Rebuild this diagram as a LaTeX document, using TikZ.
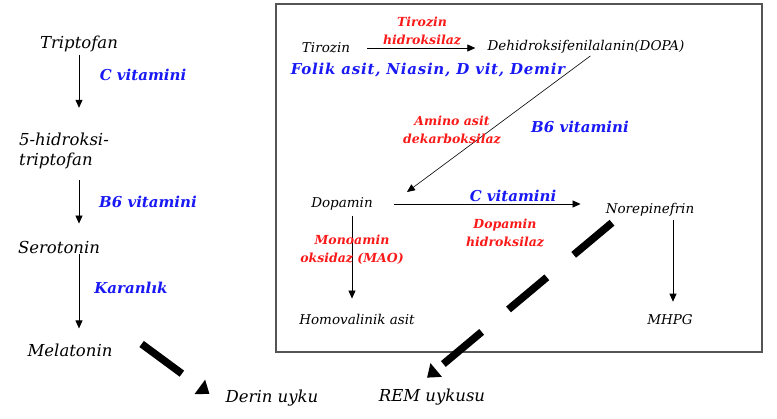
\documentclass[tikz,border=0pt]{standalone}
\usepackage{fontspec}
\setmainfont{DejaVu Serif}
\usetikzlibrary{arrows.meta}
\definecolor{vitblue}{RGB}{25,25,245}
\definecolor{enzred}{RGB}{250,25,25}
\definecolor{boxgray}{RGB}{85,85,85}

\tikzset{
	mol/.style={font=\itshape\fontsize{16.5}{20}\selectfont, inner sep=1pt},
	smol/.style={font=\itshape\fontsize{13.5}{16}\selectfont, inner sep=1pt},
	vit/.style={text=vitblue, font=\bfseries\itshape\fontsize{15}{18}\selectfont, inner sep=1pt},
	enz/.style={text=enzred, font=\bfseries\itshape\fontsize{12.5}{18}\selectfont, align=center, inner sep=1pt},
	pathway/.style={-{Triangle[length=8pt,width=7pt]}, line width=0.8pt},
	sleep/.style={line width=7.5pt, dash pattern=on 50pt off 35pt, -{Triangle[length=12pt,width=17pt]}}
}

\begin{document}
\begin{tikzpicture}[x=1pt, y=-1pt]
	\useasboundingbox (0,0) rectangle (777,418);
	
	% Draw the frame round the dopamine branch
	\draw[boxgray, line width=1.2pt] (276,4) rectangle (762,352);
	
	% Place the serotonin branch
	\node[mol] (trp) at (79,44) {Triptofan};
	\node[mol, align=left] (htp) at (64,151) {5-hidroksi-\\triptofan};
	\node[mol] (ser) at (59,247) {Serotonin};
	\node[mol] (mel) at (70,350) {Melatonin};
	
	% Connect the serotonin branch
	\draw[pathway, shorten <=2, shorten >=24] (trp.south) -- (trp.south |- htp.north);
	\draw[pathway, shorten <=10, shorten >=16] (trp.south |- htp.south) -- (trp.south |- ser.north);
	\draw[pathway, shorten >=14] (trp.south |- ser.south) -- (trp.south |- mel.north);
	
	% Label the serotonin steps
	\node[vit] (cvit1) at (143,75) {C vitamini};
	\node[vit] (b6vit1) at (148,202) {B6 vitamini};
	\node[vit] (dark) at (131,288) {Karanlık};
	
	% Place the dopamine branch
	\node[smol] (tyr) at (326,48) {Tirozin};
	\node[smol] (dopa) at (586,47) {Dehidroksifenilalanin(DOPA)};
	\node[smol] (dop) at (342,204) {Dopamin};
	\node[smol] (nore) at (650,210) {Norepinefrin};
	\node[smol] (homo) at (357,319) {Homovalinik asit};
	\node[smol] (mhpg) at (670,320) {MHPG};
	\coordinate (dopin) at (407,192);
	
	% Connect the dopamine branch
	\draw[pathway, shorten <=16, shorten >=11] (tyr.east) -- (tyr.east -| dopa.west);
	\draw[pathway, line width=0.6pt, shorten <=2] ([xshift=6]dopa.south) -- (dopin);
	\draw[pathway, shorten <=20, shorten >=24] (dop.east) -- (dop.east -| nore.west);
	\draw[pathway, shorten <=4, shorten >=14] ([xshift=10]dop.south) -- ([xshift=10]dop.south |- homo.north);
	\draw[pathway, shorten <=2, shorten >=12] ([xshift=3]mhpg.north |- nore.south) -- ([xshift=3]mhpg.north);
	
	% Label the dopamine steps
	\node[enz] (th) at (422,31) {Tirozin\\hidroksilaz};
	\node[vit] (cofac) at (428,70) {\addfontfeature{LetterSpace=5}Folik asit, Niasin, D vit, Demir};
	\node[enz] (aadc) at (452,130) {Amino asit\\dekarboksilaz};
	\node[vit] (b6vit2) at (580,127) {B6 vitamini};
	\node[vit] (cvit2) at (513,196) {C vitamini};
	\node[enz] (dbh) at (505,233) {Dopamin\\hidroksilaz};
	\node[enz] (mao) at (352,250) {Monoamin\\oksidaz (MAO)};
	
	% Place the sleep stages
	\node[mol] (derin) at (272,398) {Derin uyku};
	\node[mol] (rem) at (432,397) {REM uykusu};
	
	% Draw the sleep arrows
	\draw[sleep] ([xshift=28,yshift=6]mel.east) -- ([xshift=-15,yshift=4]derin.west);
	\draw[sleep] ([xshift=-38,yshift=-5]nore.south) -- ([xshift=-5,yshift=10]rem.north);
\end{tikzpicture}
\end{document}
